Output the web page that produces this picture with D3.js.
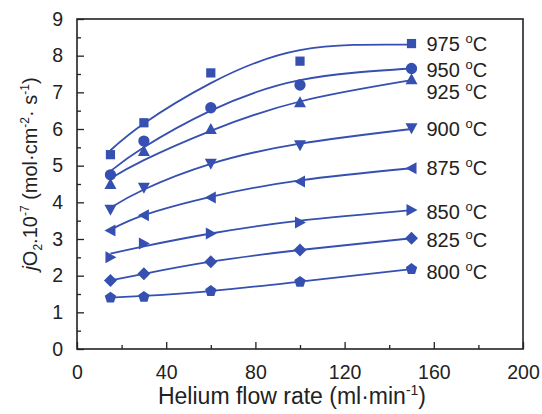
<!DOCTYPE html>
<html>
<head>
<script src="https://d3js.org/d3.v7.min.js"></script>
<style>
    body { margin: 0; background: #fff; }
    svg { display: block; font-family: "Liberation Sans", Arial, sans-serif; }
    .axis path { display: none; }
    .axis line { stroke: #222; stroke-width: 1.3; }
    .axis text { font-size: 19.5px; fill: #222; }
</style>
</head>
<body>
<svg width="542" height="414"></svg>
<script>
// flow rates (ml/min)
var flow = [15, 30, 60, 100, 150];

var temps = ["975", "950", "925", "900", "875", "850", "825", "800"];

// measured flux values (1e-7 mol cm-2 s-1)
var pts975 = [5.3, 6.17, 7.53, 7.85, 8.33];
var pts950 = [4.75, 5.67, 6.58, 7.2, 7.65];
var pts925 = [4.5, 5.4, 6.0, 6.73, 7.36];
var pts900 = [3.8, 4.4, 5.05, 5.56, 6.02];
var pts875 = [3.23, 3.65, 4.13, 4.57, 4.93];
var pts850 = [2.5, 2.88, 3.15, 3.45, 3.79];
var pts825 = [1.87, 2.05, 2.38, 2.7, 3.02];
var pts800 = [1.4, 1.42, 1.58, 1.83, 2.18];

// fitted curves, read at the same flow rates
var fit975 = [5.42, 6.15, 7.25, 8.15, 8.3];
var fit950 = [4.85, 5.5, 6.5, 7.33, 7.65];
var fit925 = [4.65, 5.15, 5.95, 6.75, 7.33];
var fit900 = [3.85, 4.35, 5.05, 5.6, 6.0];
var fit875 = [3.25, 3.65, 4.15, 4.6, 4.93];
var fit850 = [2.6, 2.8, 3.15, 3.5, 3.79];
var fit825 = [1.87, 2.05, 2.38, 2.7, 3.02];
var fit800 = [1.4, 1.45, 1.58, 1.84, 2.18];

// label y value for each temperature
var labelY = [8.33, 7.6, 7.0, 6.0, 4.95, 3.75, 2.97, 2.1];

var xTicks = [0, 40, 80, 120, 160, 200];
var yTicks = [0, 1, 2, 3, 4, 5, 6, 7, 8, 9];

var points = [pts975, pts950, pts925, pts900, pts875, pts850, pts825, pts800];
var fits = [fit975, fit950, fit925, fit900, fit875, fit850, fit825, fit800];
var color = "#3550b0";

var svg = d3.select("svg"),
    margin = {top: 19, right: 19, bottom: 65, left: 77},
    width = 542 - margin.left - margin.right,
    height = 414 - margin.top - margin.bottom,
    g = svg.append("g").attr("transform", "translate(" + margin.left + "," + margin.top + ")");

var x = d3.scaleLinear().domain([0, 200]).range([0, width]);
var y = d3.scaleLinear().domain([0, 9]).range([height, 0]);

// minor ticks
g.append("g")
    .attr("class", "axis")
    .attr("transform", "translate(0," + height + ")")
    .call(d3.axisBottom(x).tickValues(d3.range(20, 200, 40)).tickSize(-4).tickFormat(""));
g.append("g")
    .attr("class", "axis")
    .call(d3.axisLeft(y).tickValues(d3.range(0.5, 9, 1)).tickSize(-4).tickFormat(""));

// major ticks
g.append("g")
    .attr("class", "axis")
    .attr("transform", "translate(0," + height + ")")
    .call(d3.axisBottom(x).tickValues(xTicks).tickSize(-7).tickPadding(16));
g.append("g")
    .attr("class", "axis")
    .call(d3.axisLeft(y).tickValues(yTicks).tickSize(-7).tickPadding(14));

g.append("rect")
    .attr("width", width)
    .attr("height", height)
    .attr("fill", "none")
    .attr("stroke", "#222")
    .attr("stroke-width", 1.6);

var line = d3.line()
    .x(function(d, i) { return x(flow[i]); })
    .y(function(d) { return y(d); })
    .curve(d3.curveNatural);

var shapes = ["square", "circle", "up", "down", "left", "right", "diamond", "pent"];

function marker(s) {
    if (s === "up") return "M0,-6L6,5L-6,5Z";
    if (s === "down") return "M0,6L6,-5L-6,-5Z";
    if (s === "left") return "M-6,0L5,-6L5,6Z";
    if (s === "right") return "M6,0L-5,-6L-5,6Z";
    if (s === "diamond") return "M0,-6.5L6.5,0L0,6.5L-6.5,0Z";
    if (s === "pent") {
        return d3.line()(d3.range(5).map(function(i) {
            var a = -Math.PI / 2 + i * 2 * Math.PI / 5;
            return [6 * Math.cos(a), 6 * Math.sin(a)];
        })) + "Z";
    }
    if (s === "circle") return d3.symbol().type(d3.symbolCircle).size(100)();
    return d3.symbol().type(d3.symbolSquare).size(85)();
}

fits.forEach(function(f, k) {
    g.append("path")
        .datum(f)
        .attr("fill", "none")
        .attr("stroke", color)
        .attr("stroke-width", 1.8)
        .attr("d", line);

    g.selectAll(".m" + k)
        .data(points[k])
        .enter().append("path")
        .attr("class", "m" + k)
        .attr("transform", function(d, i) { return "translate(" + x(flow[i]) + "," + y(d) + ")"; })
        .attr("d", marker(shapes[k]))
        .attr("fill", color);

    var t = g.append("text")
        .attr("x", x(150) + 15)
        .attr("y", y(labelY[k]) + 7)
        .style("font-size", "20px")
        .attr("fill", "#222")
        .text(temps[k] + " ");
    t.append("tspan").attr("dy", -8).style("font-size", "13px").text("o");
    t.append("tspan").attr("dy", 8).text("C");
});

// x title
var xt = svg.append("text")
    .attr("x", margin.left + width / 2 - 8)
    .attr("y", 404)
    .attr("text-anchor", "middle")
    .style("font-size", "23px")
    .attr("fill", "#222")
    .text("Helium flow rate (ml·min");
xt.append("tspan").attr("dy", -9).style("font-size", "14px").text("-1");
xt.append("tspan").attr("dy", 9).text(")");

// y title
var yt = svg.append("text")
    .attr("transform", "translate(37,174) rotate(-90)")
    .attr("text-anchor", "middle")
    .style("font-size", "20px")
    .attr("fill", "#222");
yt.append("tspan").style("font-style", "italic").text("j");
yt.append("tspan").text("O");
yt.append("tspan").attr("dy", 5).style("font-size", "12px").text("2");
yt.append("tspan").attr("dy", -5).text(".10");
yt.append("tspan").attr("dy", -8).style("font-size", "12px").text("-7");
yt.append("tspan").attr("dy", 8).text(" (mol·cm");
yt.append("tspan").attr("dy", -8).style("font-size", "12px").text("-2");
yt.append("tspan").attr("dy", 8).text("· s");
yt.append("tspan").attr("dy", -8).style("font-size", "12px").text("-1");
yt.append("tspan").attr("dy", 8).text(")");
</script>
</body>
</html>
